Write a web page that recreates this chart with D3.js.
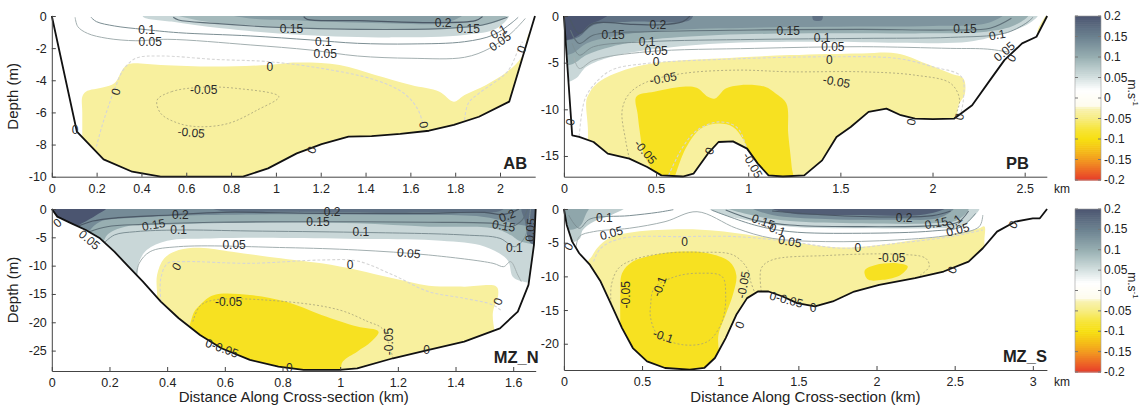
<!DOCTYPE html>
<html>
<head>
<meta charset="utf-8">
<title>Cross-section velocity</title>
<script src="https://d3js.org/d3.v7.min.js"></script>
<style>
  body { margin: 0; background: #fff; }
  text { font-family: "Liberation Sans", Arial, sans-serif; fill: #222; }
</style>
</head>
<body>
<script>
// ---------- AB ----------
const abBathy = [[0,0],[0.112,-7.2],[0.231,-8.92],[0.359,-9.69],[0.486,-10],[0.662,-10],[0.853,-10],[0.965,-9.48],[1.093,-8.55],[1.204,-7.97],[1.324,-7.51],[1.427,-7.47],[1.555,-7.34],[1.683,-7.14],[1.794,-6.78],[1.906,-6.27],[2.041,-5.33],[2.156,0]];
const abFills = [
  {v:0.06, pts:[[0.407,0.2],[0.407,-0.04],[0.534,-0.35],[0.758,-0.77],[1.124,-1.18],[1.523,-1.33],[1.842,-1.18],[1.986,-0.77],[2.041,0.2]]},
  {v:0.09, pts:[[0.534,0.2],[0.662,-0.29],[0.885,-0.56],[1.204,-0.77],[1.603,-0.83],[1.890,-0.66],[2.017,-0.15],[2.03,0.2]]},
  {v:0.12, pts:[[0.758,0.2],[0.885,-0.15],[1.124,-0.29],[1.523,-0.46],[1.762,-0.41],[1.842,0.2]]},
  {v:-0.035, pts:[[0.136,-11],[0.136,-8],[0.136,-6],[0.136,-5.02],[0.152,-4.71],[0.231,-4.44],[0.279,-4.19],[0.319,-3.26],[0.343,-2.99],[0.486,-3.05],[0.726,-3.15],[0.965,-3.05],[1.093,-2.90],[1.284,-3.05],[1.443,-3.67],[1.603,-4.29],[1.730,-4.71],[1.794,-5.33],[1.842,-4.92],[1.938,-4.29],[2.033,-3.46],[2.097,-2.53],[2.129,-1.08],[2.16,-0.66],[2.25,-0.66],[2.25,-11]]}
];
const abLines = [
  {lv:0.05, pts:[[0.104,-0.08],[0.116,-0.66],[0.159,-1.08],[0.247,-1.39],[0.375,-1.54],[0.518,-1.45],[0.885,-1.80],[1.156,-2.12],[1.364,-2.49],[1.603,-2.63],[1.842,-2.57],[1.954,-2.01],[2.049,-1.08],[2.113,-0.15]]},
  {lv:0.1, pts:[[0.175,-0.08],[0.199,-0.35],[0.279,-0.62],[0.407,-0.83],[0.566,-1.04],[0.885,-1.24],[1.156,-1.49],[1.364,-1.70],[1.603,-1.74],[1.842,-1.60],[1.970,-1.18],[2.049,-0.46],[2.081,-0.08]]},
  {lv:0.15, pts:[[0.542,-0.08],[0.566,-0.25],[0.726,-0.46],[1.013,-0.71],[1.364,-0.83],[1.762,-0.77],[1.922,-0.56],[2.033,-0.08]]},
  {lv:0.2, pts:[[1.124,-0.04],[1.140,-0.21],[1.364,-0.29],[1.683,-0.41],[1.890,-0.29],[1.922,-0.04]]},
  {lv:0, pts:[[0.199,-8.13],[0.223,-6.89],[0.247,-5.85],[0.279,-4.61],[0.319,-3.36],[0.375,-2.63],[0.486,-2.49],[0.726,-2.70],[0.965,-2.84],[1.204,-3.26],[1.443,-3.98],[1.571,-4.81],[1.635,-5.85],[1.659,-6.9]]},
  {lv:0, pts:[[1.842,-6.47],[1.858,-5.44],[1.906,-4.81],[2.033,-3.46],[2.081,-2.12],[2.10,-1.6]]},
  {lv:-0.05, closed:true, pts:[[0.470,-5.23],[0.534,-4.71],[0.662,-4.44],[0.821,-4.50],[1.013,-5.02],[0.917,-5.85],[0.789,-6.68],[0.662,-6.89],[0.566,-6.68],[0.486,-6.06]]}
];
const abLabels = [
  ["0.1",0.423,-0.87,0],["0.05",0.439,-1.6,0],["0.15",1.069,-0.83,0],["0.1",1.212,-1.6,0],["0.05",1.22,-2.37,0],
  ["0.2",1.746,-0.46,0],["0.15",1.858,-0.83,0],["0.1",1.994,-0.98,-30],["0.05",2.0,-1.6,-35],
  ["0",0.973,-3.15,0],["0",0.287,-4.71,-75],["0",0.104,-7.1,0],["0",1.161,-8.34,-70],["0",1.659,-6.78,80],["0",2.097,-2.07,-70],
  ["-0.05",0.678,-4.6,0],["-0.05",0.622,-7.26,5]
];
const abXTicks = [0,0.2,0.4,0.6,0.8,1,1.2,1.4,1.6,1.8,2];
const abYTicks = [0,-2,-4,-6,-8,-10];

// ---------- PB ----------
const pbBathy = [[0,0],[0.045,-12.78],[0.083,-12.96],[0.161,-13.5],[0.238,-14.75],[0.355,-15.29],[0.452,-16.18],[0.529,-17.08],[0.645,-17.2],[0.703,-16.9],[0.781,-14.75],[0.839,-13.5],[0.917,-13.43],[0.994,-14.21],[1.052,-15.82],[1.110,-17.08],[1.188,-17.2],[1.304,-17.08],[1.401,-15.47],[1.479,-12.96],[1.556,-11.89],[1.653,-10.28],[1.750,-9.92],[1.828,-10.63],[1.905,-10.99],[2.002,-11.06],[2.118,-10.99],[2.215,-9.56],[2.312,-6.87],[2.390,-4.73],[2.486,-2.94],[2.564,-2.22],[2.622,0]];
const pbFills = [
  {v:0.06, pts:[[0,0.3],[0,-7],[0.064,-6.7],[0.122,-5.44],[0.258,-4.37],[0.452,-3.65],[0.839,-2.94],[1.421,-2.76],[1.808,-2.86],[2.196,-2.76],[2.390,-1.86],[2.525,-0.79],[2.574,0.3]]},
  {v:0.1, pts:[[0,0.3],[0,-5.2],[0.054,-5.08],[0.122,-4.19],[0.258,-3.29],[0.452,-2.58],[0.839,-2.04],[1.421,-1.86],[2.002,-1.86],[2.293,-1.68],[2.448,-0.97],[2.525,0.3]]},
  {v:0.13, pts:[[0,0.3],[0,-4.1],[0.045,-4.01],[0.122,-2.94],[0.258,-2.22],[0.452,-1.68],[0.839,-1.32],[1.421,-1.15],[2.002,-1.07],[2.293,-0.79],[2.39,0.3]]},
  {v:0.17, pts:[[0,0.3],[0,-2.6],[0.025,-2.58],[0.083,-2.22],[0.161,-0.97],[0.355,-0.61],[0.684,-0.43],[0.7,0.3]]},
  {v:0.21, pts:[[0,0.3],[0,-2.5],[0.03,-2.5],[0.083,-2.0],[0.14,-0.9],[0.2,-0.4],[0.25,0.3]]},
  {v:0.17, pts:[[1.353,0.3],[1.353,-0.43],[1.40,-0.43],[1.40,0.3]]},
  {v:-0.035, pts:[[0.13,-18],[0.13,-14],[0.13,-12],[0.122,-9.02],[0.14,-8.2],[0.161,-7.59],[0.219,-6.7],[0.355,-5.62],[0.548,-4.91],[0.839,-4.55],[1.227,-4.19],[1.614,-4.01],[1.808,-4.01],[1.963,-5.08],[2.099,-6.16],[2.167,-6.7],[2.176,-8.31],[2.138,-9.74],[2.138,-12.6],[2.1,-18]]},
  {v:-0.035, pts:[[2.57,-1.8],[2.60,-0.4],[2.63,0.2],[2.66,-1]]},
  {v:-0.09, pts:[[0.5,-18],[0.47,-16.2],[0.432,-14.75],[0.413,-12.6],[0.40,-10.5],[0.393,-8.66],[0.490,-8.13],[0.645,-7.59],[0.72,-7.7],[0.781,-8.66],[0.820,-8.84],[0.878,-7.77],[0.955,-7.41],[1.091,-7.59],[1.149,-8.31],[1.207,-9.38],[1.217,-12.6],[1.236,-16.18],[1.24,-18]]},
  {v:-0.035, pts:[[0.59,-18],[0.607,-16.9],[0.665,-14.04],[0.742,-12.07],[0.839,-11.53],[0.917,-11.89],[0.975,-13.32],[1.014,-15.47],[1.033,-16.9],[1.05,-18]]}
];
const pbLines = [
  {lv:0.2, pts:[[0.035,-0.43],[0.083,-1.86],[0.161,-0.79],[0.374,-0.9],[0.51,-0.95],[0.645,-0.6],[0.684,0]]},
  {lv:0.15, pts:[[0.035,-1.5],[0.083,-2.94],[0.161,-2.04],[0.452,-1.68],[1.033,-1.5],[1.614,-1.43],[2.099,-1.5],[2.312,-1.32],[2.428,-0.25]]},
  {lv:0.1, pts:[[0.045,-2.94],[0.083,-4.19],[0.161,-3.29],[0.452,-2.76],[1.033,-2.51],[1.614,-2.4],[2.099,-2.29],[2.390,-1.86],[2.506,-0.79],[2.545,-0.14]]},
  {lv:0.05, pts:[[0.054,-4.37],[0.083,-5.62],[0.161,-4.73],[0.452,-3.83],[1.033,-3.47],[1.614,-3.29],[2.099,-3.47],[2.30,-3.55],[2.42,-3.9]]},
  {lv:0, pts:[[0.083,-12.9],[0.112,-9.02],[0.161,-7.41],[0.258,-5.8],[0.452,-5.08],[0.839,-4.66],[1.421,-4.37],[1.808,-4.55],[2.002,-5.44],[2.157,-6.52],[2.167,-9.02],[2.147,-10.9]]},
  {lv:0, pts:[[0.568,-17.08],[0.645,-14.04],[0.723,-12.24],[0.839,-11.35],[0.936,-11.89],[0.984,-13.68],[1.014,-16.18],[1.033,-17.1]]},
  {lv:-0.05, pts:[[0.355,-15.29],[0.335,-13.32],[0.316,-10.1],[0.355,-8.31],[0.452,-7.05],[0.645,-6.16],[0.936,-5.8],[1.227,-5.98],[1.614,-5.98],[1.905,-6.34],[2.099,-7.23],[2.147,-9.02],[2.118,-10.9]]}
];
const pbLabels = [
  ["0.2",0.51,-0.97,0],["0.15",0.267,-2.04,0],["0.1",0.452,-2.76,0],["0.05",0.5,-3.72,0],["0",0.5,-4.9,0],["-0.05",0.539,-6.7,-10],
  ["0.15",1.217,-1.58,0],["0.1",1.401,-2.4,0],["0.05",1.459,-3.29,0],["0",1.44,-4.73,0],["-0.05",1.479,-7.05,10],
  ["0.15",2.176,-1.43,0],["0.1",2.351,-2.04,-10],["0.05",2.39,-3.83,-40],["0",2.43,-4.5,-60],
  ["0",0.035,-11.35,-80],["0",0.791,-14.46,-70],["0",1.886,-11.35,-80],["0",2.147,-10.81,-80],
  ["-0.05",0.442,-14.57,50],["-0.05",1.023,-16.0,60]
];
const pbXTicks = [0,0.5,1,1.5,2,2.5];
const pbYTicks = [0,-5,-10,-15];

// ---------- MZ_N ----------
const mznBathy = [[0,0],[0.019,-1.35],[0.068,-2.53],[0.118,-3.71],[0.167,-5.18],[0.217,-7.53],[0.266,-10.18],[0.316,-12.82],[0.378,-16.35],[0.440,-19.29],[0.514,-22.24],[0.588,-24.59],[0.687,-26.65],[0.786,-27.82],[0.873,-28.41],[0.997,-28.41],[1.059,-28.12],[1.183,-26.35],[1.307,-24.88],[1.430,-23.41],[1.554,-21.06],[1.616,-18.12],[1.653,-13.41],[1.672,-6.35],[1.678,0]];
const mznFills = [
  {v:0.06, pts:[[0,0.3],[0.2,-12],[0.291,-12.24],[0.303,-9.29],[0.33,-7.2],[0.40,-5.6],[0.55,-5.2],[0.8,-5.1],[1.1,-5.3],[1.35,-5.6],[1.5,-6.6],[1.58,-9.0],[1.604,-12.24],[1.75,-12.24],[1.75,0.3]]},
  {v:0.1, pts:[[0,0.3],[0.15,-8],[0.167,-7.53],[0.192,-4.59],[0.254,-3.12],[0.378,-2.82],[0.563,-2.53],[0.811,-2.35],[1.059,-2.53],[1.307,-3.12],[1.530,-3.41],[1.591,-4.59],[1.628,-5.76],[1.75,-5.76],[1.75,0.3]]},
  {v:0.14, pts:[[0,0.3],[0.12,-5],[0.130,-3.9],[0.167,-2.24],[0.254,-1.65],[0.440,-1.18],[0.811,-0.94],[1.183,-1.06],[1.492,-1.35],[1.579,-2.24],[1.628,-2.82],[1.75,-2.82],[1.75,0.3]]},
  {v:0.17, pts:[[0.55,0.3],[0.588,-0.35],[0.811,-0.47],[1.307,-0.59],[1.554,-0.35],[1.57,0.3]]},
  {v:0.17, pts:[[1.63,0.3],[1.64,-2],[1.66,-6],[1.7,-6],[1.7,0.3]]},
  {v:0.21, pts:[[0,0.3],[0.02,-3],[0.068,-3.41],[0.105,-2.53],[0.155,-1.06],[0.192,0.3]]},
  {v:-0.035, pts:[[0.4,-30],[0.365,-20],[0.365,-15.18],[0.365,-11.65],[0.390,-8.71],[0.440,-7.24],[0.514,-6.82],[0.625,-7.53],[0.749,-8.41],[0.935,-9.59],[1.059,-10.76],[1.183,-12.24],[1.307,-13.53],[1.430,-13.71],[1.542,-13.71],[1.548,-15.18],[1.530,-18.12],[1.52,-30]]},
  {v:-0.09, pts:[[0.48,-30],[0.489,-18.71],[0.514,-16.94],[0.563,-15.18],[0.687,-15.18],[0.811,-16.35],[0.935,-18.71],[1.059,-20.76],[1.133,-21.65],[1.108,-23.41],[1.059,-25.18],[1.009,-26.94],[0.99,-30]]}
];
const mznLines = [
  {lv:0.2, pts:[[0.087,-3.12],[0.142,-2.12],[0.229,-1.53],[0.415,-1.06],[0.588,-0.59],[0.935,-0.76],[1.307,-0.76],[1.50,-0.6],[1.56,-1.0],[1.60,-0.5],[1.62,0]]},
  {lv:0.15, pts:[[0.130,-4.0],[0.192,-3.12],[0.316,-2.71],[0.563,-2.35],[0.935,-2.24],[1.307,-2.35],[1.530,-2.53],[1.591,-3.12],[1.63,-2],[1.65,0]]},
  {lv:0.1, pts:[[0.180,-6.06],[0.217,-4.59],[0.291,-4.0],[0.440,-3.71],[0.687,-3.88],[1.059,-4.12],[1.430,-4.59],[1.554,-5.18],[1.604,-6.65],[1.64,-5],[1.66,0]]},
  {lv:0.05, pts:[[0.291,-12.24],[0.303,-9.59],[0.341,-7.53],[0.440,-6.65],[0.811,-6.82],[1.059,-7.24],[1.307,-8.12],[1.530,-9.59],[1.567,-10.18],[1.591,-9.29],[1.616,-11.65],[1.628,-12.82]]},
  {lv:0, pts:[[0.378,-16.35],[0.378,-12.24],[0.402,-9.59],[0.464,-9.29],[0.687,-9.59],[0.935,-9.0],[1.059,-9.18],[1.183,-11.65],[1.307,-14.59],[1.430,-15.76],[1.530,-16.94],[1.56,-18]]},
  {lv:-0.05, pts:[[0.489,-19.88],[0.514,-17.12],[0.563,-16.06],[0.811,-16.35],[0.997,-17.82],[1.096,-19.88],[1.145,-21.06],[1.170,-24.0],[1.183,-26.35]]}
];
const mznLabels = [
  ["0.2",0.446,-1.06,0],["0.15",0.353,-2.82,-10],["0.1",0.44,-3.71,0],["0.2",0.972,-0.5,0],["0.15",0.923,-2.35,0],["0.1",1.072,-4.12,0],
  ["0.05",0.632,-6.35,0],["0.05",1.238,-7.82,5],["0.2",1.579,-1.2,-20],["0.15",1.567,-3.0,10],["0.1",1.604,-6.94,0],["0.05",1.66,-3.7,-85],
  ["0.05",0.13,-5.47,40],["0",0.02,-2.5,-40],["0",0.433,-10.18,-60],["0",1.034,-9.88,0],["0",1.548,-16.35,-70],["0",1.30,-24.9,0],["0",0.824,-28.1,0],
  ["-0.05",0.613,-16.47,0],["-0.05",1.17,-23.4,-90],["0-0.05",0.59,-24.6,20]
];
const mznXTicks = [0,0.2,0.4,0.6,0.8,1,1.2,1.4,1.6];
const mznYTicks = [0,-5,-10,-15,-20,-25];

// ---------- MZ_S ----------
const mzsBathy = [[0,0],[0.018,-2.37],[0.053,-4.84],[0.098,-6.57],[0.167,-8.30],[0.235,-10.77],[0.304,-14.22],[0.372,-17.68],[0.441,-20.64],[0.532,-22.62],[0.647,-23.60],[0.806,-23.85],[0.898,-23.60],[0.966,-22.12],[1.035,-19.16],[1.103,-15.70],[1.172,-13.23],[1.241,-12.25],[1.309,-12.25],[1.400,-12.99],[1.492,-13.98],[1.606,-14.47],[1.720,-13.73],[1.857,-12.25],[2.017,-11.26],[2.246,-10.27],[2.429,-9.28],[2.589,-7.80],[2.680,-5.83],[2.771,-3.36],[2.886,-1.88],[3.0,-1.38],[3.045,-1.38],[3.091,0]];
const mzsFills = [
  {v:0.07, pts:[[0,0.3],[0,-5],[0.098,-4.5],[0.121,-3.11],[0.190,-1.88],[0.304,-0.89],[0.395,0.3]]},
  {v:0.11, pts:[[0,0.3],[0.03,-3],[0.1,-2.6],[0.14,-0.8],[0.16,0.3]]},
  {v:0.06, pts:[[0.921,0.3],[0.989,-0.64],[1.218,-1.88],[1.446,-2.62],[1.903,-2.86],[2.360,-2.86],[2.543,-2.62],[2.611,-1.38],[2.657,0.3]]},
  {v:0.1, pts:[[1.035,0.3],[1.218,-0.99],[1.446,-1.78],[1.903,-2.12],[2.360,-2.12],[2.520,-1.63],[2.589,0.3]]},
  {v:0.14, pts:[[1.195,0.3],[1.332,-0.89],[1.675,-1.48],[2.132,-1.58],[2.406,-1.28],[2.497,0.3]]},
  {v:0.19, pts:[[1.309,0.3],[1.446,-0.64],[1.903,-0.89],[2.315,-0.79],[2.452,0.3]]},
  {v:-0.035, pts:[[0.15,-25],[0.15,-12],[0.15,-8],[0.178,-7.06],[0.212,-5.83],[0.30,-4.2],[0.45,-3.4],[0.761,-3.0],[0.989,-3.26],[1.332,-4.35],[1.560,-5.23],[1.789,-5.73],[2.017,-5.33],[2.246,-4.59],[2.474,-3.85],[2.657,-2.86],[2.69,-2.6],[2.69,-5],[2.7,-25]]},
  {v:-0.09, pts:[[0.361,-25],[0.361,-17.68],[0.361,-12.74],[0.372,-9.53],[0.441,-7.80],[0.578,-6.81],[0.761,-6.32],[0.921,-6.57],[1.058,-7.80],[1.103,-9.78],[1.081,-12.74],[1.035,-15.70],[0.989,-18.67],[0.97,-25]]},
  {v:-0.09, pts:[[1.926,-9.04],[1.994,-8.30],[2.132,-8.05],[2.200,-8.54],[2.154,-9.78],[2.040,-10.52],[1.949,-10.52],[1.926,-9.78]]}
];
const mzsLines = [
  {lv:0.2, pts:[[1.332,-0.30],[1.675,-0.89],[2.132,-1.19],[2.360,-0.99],[2.474,-0.30]]},
  {lv:0.15, pts:[[1.035,-0.15],[1.218,-1.63],[1.446,-2.37],[1.903,-2.62],[2.360,-2.47],[2.520,-1.98],[2.589,-0.30]]},
  {lv:0.1, pts:[[0.030,-0.89],[0.098,-2.86],[0.167,-1.48],[0.418,-0.99],[0.6,-0.5],[0.7,-0.1]]},
  {lv:0.1, pts:[[0.944,-0.15],[1.218,-2.37],[1.446,-3.36],[1.903,-3.60],[2.360,-3.26],[2.543,-2.62],[2.634,-0.64]]},
  {lv:0.05, pts:[[0.075,-6.32],[0.098,-4.10],[0.190,-3.36],[0.418,-2.86],[0.647,-1.88],[0.852,-0.40],[1.103,-2.86],[1.332,-4.35],[1.675,-4.84],[2.132,-4.59],[2.474,-3.85],[2.657,-2.62],[2.680,-0.89]]},
  {lv:0, pts:[[0.190,-7.8],[0.235,-5.83],[0.372,-4.35],[0.761,-4.10],[1.103,-4.10],[1.446,-4.84],[1.789,-5.83],[2.132,-5.09],[2.474,-4.10],[2.680,-3.11]]},
  {lv:-0.05, pts:[[0.304,-15.2],[0.304,-11.26],[0.350,-8.79],[0.441,-7.56],[0.647,-6.57],[0.875,-6.42],[1.081,-6.81],[1.172,-8.79],[1.195,-10.77],[1.218,-12.25]]},
  {lv:-0.05, pts:[[1.263,-12.25],[1.263,-8.79],[1.332,-7.56],[1.675,-6.91],[2.132,-6.72],[2.314,-7.31],[2.337,-8.54],[2.269,-10.0]]},
  {lv:-0.1, closed:true, pts:[[0.555,-14.22],[0.578,-11.75],[0.715,-10.02],[0.875,-9.53],[1.012,-10.02],[1.035,-12.74],[1.012,-16.69],[0.921,-19.65],[0.761,-20.15],[0.601,-18.67],[0.555,-16.2]]}
];
const mzsLabels = [
  ["0.1",0.258,-1.38,0],["0.05",0.304,-3.6,-15],["0.15",1.275,-1.88,20],["0.1",1.366,-3.1,20],["0.05",1.446,-4.84,10],
  ["0.2",2.177,-1.28,0],["0.15",2.383,-2.12,-10],["0.1",2.497,-1.98,-40],["0.05",2.52,-3.11,-15],
  ["0",0.772,-4.84,0],["0",1.88,-5.83,0],["-0.05",2.097,-7.31,0],["-0.05",0.395,-12.74,-90],["-0.1",0.612,-11.5,-70],["-0.1",0.635,-18.9,20],
  ["-0.05",1.149,-11.26,-80],["0-0.05",1.423,-13.48,15],["0",1.595,-14.72,0],["0",1.126,-17.2,-70],["0",2.486,-9.04,-70],["0",2.874,-2.37,-60],["0",0.03,-5.6,-60]
];
const mzsXTicks = [0,0.5,1,1.5,2,2.5,3];
const mzsYTicks = [0,-5,-10,-15,-20];

// colour bar
const cbTicks = [0.2,0.15,0.1,0.05,0,-0.05,-0.1,-0.15,-0.2];

// ---------- drawing ----------
const svg = d3.select("body").append("svg")
  .attr("width", 1142).attr("height", 407);

const color = d3.scaleLinear()
  .domain([-0.2,-0.175,-0.15,-0.125,-0.1,-0.075,-0.05,-0.025,-0.018,0.02,0.05,0.1,0.15,0.2])
  .range(["#e63a2a","#ee6a26","#f29a20","#f5c018","#f7df10","#f7e53a","#f7ec80","#f8f2b2","#fefcee","#ffffff","#d5e1e1","#98afb2","#6c8290","#4b5570"])
  .clamp(true);

const lineStyle = {
  "0.2":  {stroke:"#4b5866", w:1.2},
  "0.15": {stroke:"#5f7079", w:1.1},
  "0.1":  {stroke:"#7d8f94", w:1},
  "0.05": {stroke:"#a3afb0", w:1},
  "0":    {stroke:"#d6d6d6", w:1.1, dash:"3,2"},
  "-0.05":{stroke:"#a6a27a", w:0.8, dash:"2,2"},
  "-0.1": {stroke:"#a6a27a", w:0.8, dash:"2,2"}
};

const panels = [
  {name:"AB", bathy:abBathy, fills:abFills, lines:abLines, labels:abLabels, xMax:2.157, yMin:-10,
   xTicks:abXTicks, yTicks:abYTicks, box:[51.8,535.2,16,176.7], yTitle:true, km:false, tag:[-8,-8]},
  {name:"PB", bathy:pbBathy, fills:pbFills, lines:pbLines, labels:pbLabels, xMax:2.62, yMin:-17.22,
   xTicks:pbXTicks, yTicks:pbYTicks, box:[563.9,1046.8,16,176.7], yTitle:false, km:true, tag:[-18,-8]},
  {name:"MZ_N", bathy:mznBathy, fills:mznFills, lines:mznLines, labels:mznLabels, xMax:1.678, yMin:-28.6,
   xTicks:mznXTicks, yTicks:mznYTicks, box:[51.8,535.7,209,371], yTitle:true, km:false, tag:[3,-8], xTitle:true},
  {name:"MZ_S", bathy:mzsBathy, fills:mzsFills, lines:mzsLines, labels:mzsLabels, xMax:3.09, yMin:-23.9,
   xTicks:mzsXTicks, yTicks:mzsYTicks, box:[563.9,1046.9,209,370], yTitle:false, km:true, tag:[0,-8], xTitle:true}
];

const fmt = d => String(+d.toFixed(3));

panels.forEach((p, i) => {
  const [x0, x1, y0, y1] = p.box;
  const x = d3.scaleLinear().domain([0, p.xMax]).range([x0, x1]);
  const y = d3.scaleLinear().domain([p.yMin, 0]).range([y1, y0]);

  const open = d3.line().x(d => x(d[0])).y(d => y(d[1])).curve(d3.curveCatmullRom.alpha(0.5));
  const closed = d3.line().x(d => x(d[0])).y(d => y(d[1])).curve(d3.curveCatmullRomClosed.alpha(0.5));
  const straight = d3.line().x(d => x(d[0])).y(d => y(d[1]));

  const g = svg.append("g");
  const clipId = "water" + i;
  g.append("clipPath").attr("id", clipId)
    .append("path").attr("d", straight(p.bathy) + "Z");

  const inner = g.append("g").attr("clip-path", `url(#${clipId})`);

  inner.selectAll("path.fill")
    .data(p.fills)
    .join("path")
    .attr("class", "fill")
    .attr("d", d => closed(d.pts))
    .attr("fill", d => color(d.v))
    .attr("stroke", "none");

  inner.selectAll("path.cline")
    .data(p.lines)
    .join("path")
    .attr("class", "cline")
    .attr("d", d => (d.closed ? closed : open)(d.pts))
    .attr("fill", "none")
    .attr("stroke", d => lineStyle[fmt(d.lv)].stroke)
    .attr("stroke-width", d => lineStyle[fmt(d.lv)].w)
    .attr("stroke-dasharray", d => lineStyle[fmt(d.lv)].dash || null);

  // bathymetry
  g.append("path")
    .attr("d", straight(p.bathy))
    .attr("fill", "none")
    .attr("stroke", "#111")
    .attr("stroke-width", 1.8)
    .attr("stroke-linejoin", "round");

  // contour labels
  g.selectAll("text.clab")
    .data(p.labels)
    .join("text")
    .attr("class", "clab")
    .attr("transform", d => `translate(${x(d[1])},${y(d[2])}) rotate(${d[3]})`)
    .attr("text-anchor", "middle")
    .attr("dominant-baseline", "central")
    .style("font-size", "12px")
    .style("fill", "#2a2a2a")
    .text(d => d[0]);

  // axes
  const xAxis = d3.axisBottom(x).tickValues(p.xTicks).tickFormat(fmt)
    .tickSize(-4).tickSizeOuter(0).tickPadding(7);
  const yAxis = d3.axisLeft(y).tickValues(p.yTicks).tickFormat(fmt)
    .tickSize(-4).tickSizeOuter(0).tickPadding(5);

  const gx = g.append("g").attr("transform", `translate(0,${y1})`).call(xAxis);
  const gy = g.append("g").attr("transform", `translate(${x0},0)`).call(yAxis);
  [gx, gy].forEach(a => {
    a.selectAll("path.domain").attr("stroke", "#444");
    a.selectAll(".tick line").attr("stroke", "#444");
    a.selectAll("text").style("font-size", "12.5px").style("fill", "#222")
      .style("font-family", '"Liberation Sans", Arial, sans-serif');
  });

  if (p.yTitle) {
    g.append("text")
      .attr("transform", `translate(18,${(y0 + y1) / 2}) rotate(-90)`)
      .attr("text-anchor", "middle")
      .style("font-size", "15px")
      .text("Depth (m)");
  }
  if (p.xTitle) {
    g.append("text")
      .attr("x", (x0 + x1) / 2).attr("y", 402)
      .attr("text-anchor", "middle")
      .style("font-size", "15px")
      .text("Distance Along Cross-section (km)");
  }
  if (p.km) {
    g.append("text")
      .attr("x", 1054).attr("y", y1 + 16)
      .style("font-size", "12px")
      .text("km");
  }
  g.append("text")
    .attr("x", x1 + p.tag[0]).attr("y", y1 + p.tag[1])
    .attr("text-anchor", "end")
    .style("font-size", "16.5px").style("font-weight", "bold")
    .text(p.name);
});

// colour bars
[[16, 180], [209, 372]].forEach(([top, bot]) => {
  const cy = d3.scaleLinear().domain([-0.2, 0.2]).range([bot, top]);
  const cb = svg.append("g");
  const step = 0.005;
  cb.selectAll("rect")
    .data(d3.range(-0.2, 0.2, step))
    .join("rect")
    .attr("x", 1075).attr("width", 26)
    .attr("y", d => cy(d + step))
    .attr("height", d => cy(d) - cy(d + step) + 0.6)
    .attr("fill", d => color(d + step / 2));
  cb.append("rect")
    .attr("x", 1075).attr("y", top).attr("width", 26).attr("height", bot - top)
    .attr("fill", "none").attr("stroke", "#9a9a9a").attr("stroke-width", 0.6);
  cb.selectAll("line.tk")
    .data(cbTicks)
    .join("line")
    .attr("class", "tk")
    .attr("x1", 1075).attr("x2", 1078)
    .attr("y1", d => cy(d)).attr("y2", d => cy(d))
    .attr("stroke", "#777");
  cb.selectAll("line.tk2")
    .data(cbTicks)
    .join("line")
    .attr("class", "tk2")
    .attr("x1", 1098).attr("x2", 1101)
    .attr("y1", d => cy(d)).attr("y2", d => cy(d))
    .attr("stroke", "#777");
  cb.selectAll("text.cbl")
    .data(cbTicks)
    .join("text")
    .attr("class", "cbl")
    .attr("x", 1104).attr("y", d => cy(d))
    .attr("dominant-baseline", "central")
    .style("font-size", "12px")
    .text(d => fmt(d));
  const u = cb.append("text")
    .attr("transform", `translate(1128,${cy(0.045)}) rotate(90)`)
    .style("font-size", "12px");
  u.append("tspan").text("m.s");
  u.append("tspan").attr("dy", -5).style("font-size", "8px").text("-1");
});
</script>
</body>
</html>
